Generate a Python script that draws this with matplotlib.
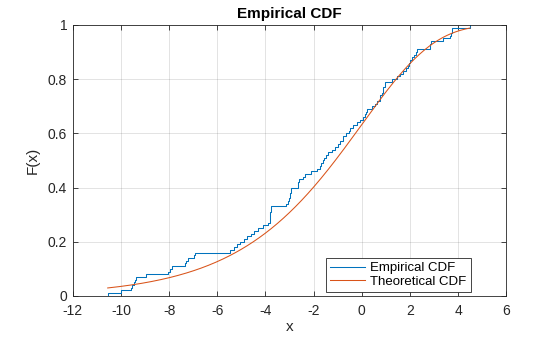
import numpy as np
import matplotlib.pyplot as plt

# sorted sample (n = 100)
samples = [
    -10.55, -10.00, -9.58, -9.55, -9.45, -9.40, -9.38, -8.94, -8.04, -7.98,
    -7.86, -7.34, -7.30, -7.22, -6.95, -6.92, -5.47, -5.30, -5.18, -5.05,
    -4.90, -4.78, -4.62, -4.48, -4.30, -4.12, -3.89, -3.83, -3.82, -3.80,
    -3.79, -3.78, -3.77, -3.15, -3.06, -3.04, -3.00, -2.98, -2.95, -2.92,
    -2.66, -2.64, -2.62, -2.44, -2.35, -2.10, -1.85, -1.75, -1.70, -1.60,
    -1.55, -1.50, -1.40, -1.25, -1.10, -0.98, -0.90, -0.78, -0.76, -0.65,
    -0.55, -0.49, -0.35, -0.20, -0.07, 0.05, 0.12, 0.18, 0.21, 0.43,
    0.55, 0.65, 0.76, 0.77, 0.82, 0.88, 0.89, 0.97, 0.98, 1.25,
    1.47, 1.60, 1.72, 1.85, 1.92, 1.97, 2.00, 2.10, 2.18, 2.24,
    2.28, 2.82, 2.84, 2.86, 3.38, 3.67, 3.72, 3.74, 3.76, 4.50,
]

# extreme value (minimum) distribution parameters
ev_mu = 0.0
ev_sigma = 3.0

x_ticks = [-12, -10, -8, -6, -4, -2, 0, 2, 4, 6]
y_ticks = [0, 0.2, 0.4, 0.6, 0.8, 1]

x = np.sort(np.array(samples))
n = len(x)
xs = np.concatenate([[x[0]], x])
fs = np.concatenate([[0.0], np.arange(1, n + 1) / n])

xt = np.linspace(x[0], x[-1], 300)
ft = 1 - np.exp(-np.exp((xt - ev_mu) / ev_sigma))

plt.rcParams['font.family'] = ['Liberation Sans', 'DejaVu Sans']
plt.rcParams['axes.unicode_minus'] = False
axcol = (0.15, 0.15, 0.15)

fig = plt.figure(figsize=(5.6, 3.37), dpi=100)
ax = fig.add_axes([0.130, 0.122, 0.774, 0.804])

ax.step(xs, fs, where='post', color='#0072BD', lw=0.75, label='Empirical CDF')
ax.plot(xt, ft, color='#D95319', lw=0.75, label='Theoretical CDF')

ax.set_xlim(-12, 6)
ax.set_ylim(0, 1)
ax.set_xticks(x_ticks)
ax.set_yticks(y_ticks)
ax.set_yticklabels(['0', '0.2', '0.4', '0.6', '0.8', '1'])
ax.grid(True, color=(0.15, 0.15, 0.15), alpha=0.15, lw=0.6)
ax.tick_params(direction='in', top=True, right=True, length=3.5, width=0.6,
               colors=axcol, labelsize=10)
ax.tick_params(axis='x', pad=5.5)
ax.tick_params(axis='y', pad=4)
for s in ax.spines.values():
    s.set_color(axcol)
    s.set_linewidth(0.6)

ax.set_xlabel('x', fontsize=11, color=axcol, labelpad=2)
ax.set_ylabel('F(x)', fontsize=11, color=axcol, labelpad=6)
ax.set_title('Empirical CDF', fontsize=11, fontweight='bold', color='black', pad=5)

leg = ax.legend(loc='lower right', bbox_to_anchor=(0.918, 0.015), fontsize=9.5,
                fancybox=False, framealpha=1, edgecolor=axcol, borderpad=0.3,
                handlelength=2.7, handletextpad=0.4, labelspacing=0.1, borderaxespad=0)
leg.get_frame().set_linewidth(0.6)

fig.savefig('out.png', dpi=100)
